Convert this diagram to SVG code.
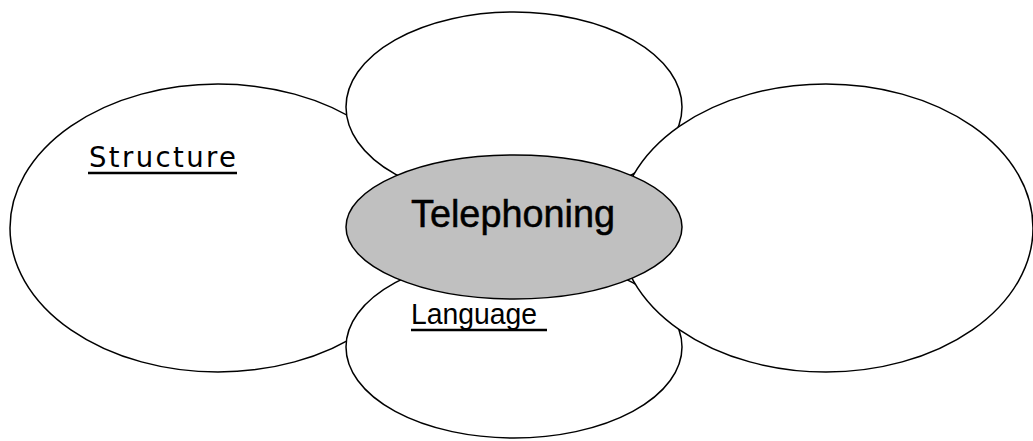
<svg xmlns="http://www.w3.org/2000/svg" width="1033" height="441" viewBox="0 0 1033 441">
  <style>
    .petal { fill: #ffffff; stroke: #000000; stroke-width: 1.5; }
    .hub { fill: #c0c0c0; stroke: #000000; stroke-width: 1.5; }
    .label { font-family: "Liberation Sans", Arial, sans-serif; fill: #000000; }
    .ul { stroke: #000000; stroke-width: 2.5; }
  </style>
  <rect x="0" y="0" width="1033" height="441" fill="#ffffff"/>
  <g id="connectors"></g>
  <g id="node-structure">
    <ellipse class="petal" cx="218" cy="228" rx="208" ry="144"/>
    <text x="89" y="167" font-family="'DejaVu Sans', Verdana, sans-serif" font-size="27.5" textLength="147" lengthAdjust="spacing">Structure</text>
    <line class="ul" x1="88" y1="173" x2="237" y2="173"/>
  </g>
  <g id="node-top">
    <ellipse class="petal" cx="514" cy="107" rx="168" ry="95"/>
  </g>
  <g id="node-language">
    <ellipse class="petal" cx="514" cy="347" rx="168" ry="91"/>
  </g>
  <g id="node-right">
    <ellipse class="petal" cx="826" cy="228" rx="207" ry="144"/>
  </g>
  <g id="node-telephoning">
    <ellipse class="hub" cx="514" cy="227" rx="168" ry="72"/>
    <text class="label" x="411" y="227" font-size="38" stroke="#000000" stroke-width="0.5" textLength="204" lengthAdjust="spacingAndGlyphs">Telephoning</text>
  </g>
  <g id="label-language">
    <text class="label" x="411" y="324" font-size="29" textLength="126" lengthAdjust="spacingAndGlyphs">Language</text>
    <line class="ul" x1="411" y1="330" x2="547" y2="330"/>
  </g>
</svg>
